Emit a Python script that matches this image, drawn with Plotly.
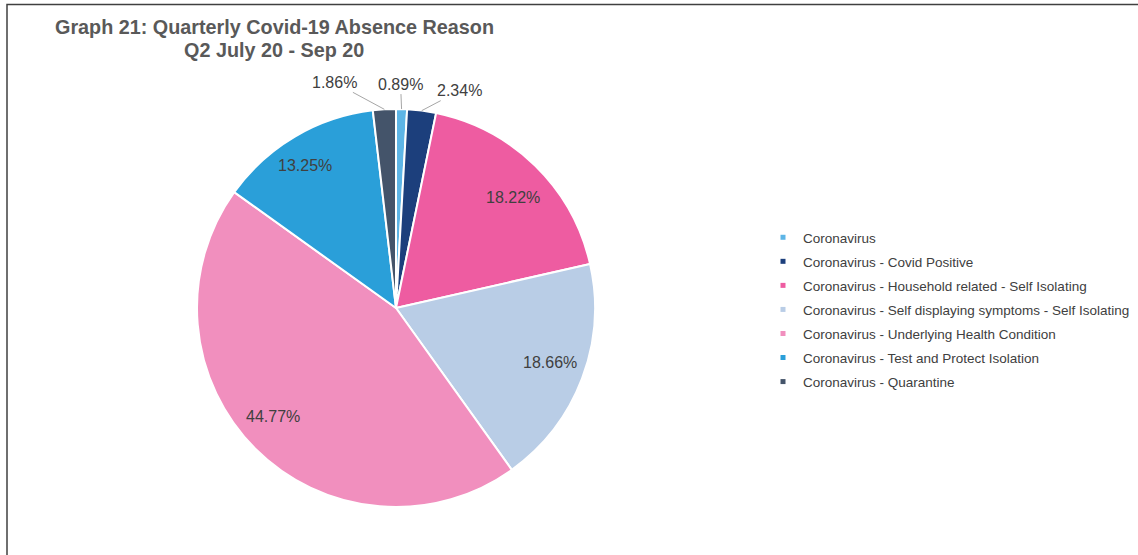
import math
import plotly.graph_objects as go

# Absence reasons and their share (%) for the quarter
reasons = [
    "Coronavirus",
    "Coronavirus - Covid Positive",
    "Coronavirus - Household related - Self Isolating",
    "Coronavirus - Self displaying symptoms - Self Isolating",
    "Coronavirus - Underlying Health Condition",
    "Coronavirus - Test and Protect Isolation",
    "Coronavirus - Quarantine",
]
shares = [0.89, 2.34, 18.22, 18.66, 44.77, 13.25, 1.86]
slice_colors = ["#5DB5E6", "#1C3F7C", "#EE5CA1", "#B9CDE6", "#F18FBE", "#2A9FD9", "#44546A"]
title_lines = ["Graph 21: Quarterly Covid-19 Absence Reason", "Q2 July 20 - Sep 20"]

W, H = 1138, 555
CX, CY, R = 396, 308, 199  # pie centre / radius in pixels (from top-left)
FONT = "Liberation Sans, Arial, sans-serif"
TEXT = "#404040"

fig = go.Figure()
fig.add_trace(go.Pie(
    labels=reasons,
    values=shares,
    sort=False,
    direction="clockwise",
    rotation=0,
    marker=dict(colors=slice_colors, line=dict(color="white", width=2)),
    textinfo="none",
    hoverinfo="label+percent",
    showlegend=False,
    domain=dict(x=[(CX - R) / W, (CX + R) / W],
                y=[(H - CY - R) / H, (H - CY + R) / H]),
))

# Legend entries with small square markers
for name, col in zip(reasons, slice_colors):
    fig.add_trace(go.Scatter(
        x=[None], y=[None], mode="markers", name=name, legendgroup=name,
        marker=dict(symbol="square", size=5, color=col),
        showlegend=True, hoverinfo="skip",
    ))

def to_paper(px, py):
    return px / W, (H - py) / H

# Percentage labels placed at each slice's mid-angle
total = sum(shares)
cum = 0.0
outside_offsets = {0: (-1, -25), 1: (38, -20), 6: (-50, -27)}
inside_shift = {2: (4, 5), 3: (3, -3), 4: (-9, -5), 5: (-9, -4)}
annotations = []
for i, v in enumerate(shares):
    theta = 2 * math.pi * (cum + v / 2) / total
    cum += v
    label = f"{v:.2f}%"
    if i in outside_offsets:
        px = CX + R * math.sin(theta)
        py = CY - R * math.cos(theta)
        x, y = to_paper(px, py)
        ax, ay = outside_offsets[i]
        annotations.append(dict(
            x=x, y=y, xref="paper", yref="paper", text=label,
            showarrow=True, ax=ax, ay=ay, arrowhead=0, arrowwidth=1,
            arrowcolor="#A6A6A6", standoff=0,
            font=dict(family=FONT, size=16, color=TEXT),
        ))
    else:
        k = 0.81
        dx, dy = inside_shift.get(i, (0, 0))
        px = CX + k * R * math.sin(theta) + dx
        py = CY - k * R * math.cos(theta) + dy
        x, y = to_paper(px, py)
        annotations.append(dict(
            x=x, y=y, xref="paper", yref="paper", text=label,
            showarrow=False, xanchor="center", yanchor="middle",
            font=dict(family=FONT, size=16, color=TEXT),
        ))

# Two-line bold title
for line, yc in zip(title_lines, [27, 50]):
    annotations.append(dict(
        x=274 / W, y=1 - yc / H, xref="paper", yref="paper",
        text=f"<b>{line}</b>", showarrow=False,
        xanchor="center", yanchor="middle",
        font=dict(family=FONT, size=19.8, color="#595959"),
    ))

fig.update_layout(
    width=W, height=H,
    margin=dict(l=0, r=0, t=0, b=0),
    paper_bgcolor="white", plot_bgcolor="white",
    xaxis=dict(visible=False), yaxis=dict(visible=False),
    annotations=annotations,
    legend=dict(
        x=763 / W, y=1 - 222 / H, xanchor="left", yanchor="top",
        traceorder="grouped", tracegroupgap=3.5,
        font=dict(family=FONT, size=13.5, color=TEXT),
        bgcolor="rgba(0,0,0,0)",
    ),
    shapes=[dict(
        type="rect", xref="paper", yref="paper",
        x0=7 / W, x1=1.02, y0=-0.02, y1=1 - 4.5 / H,
        line=dict(color="#404040", width=1.5),
    )],
)

fig.write_html("out.html")
